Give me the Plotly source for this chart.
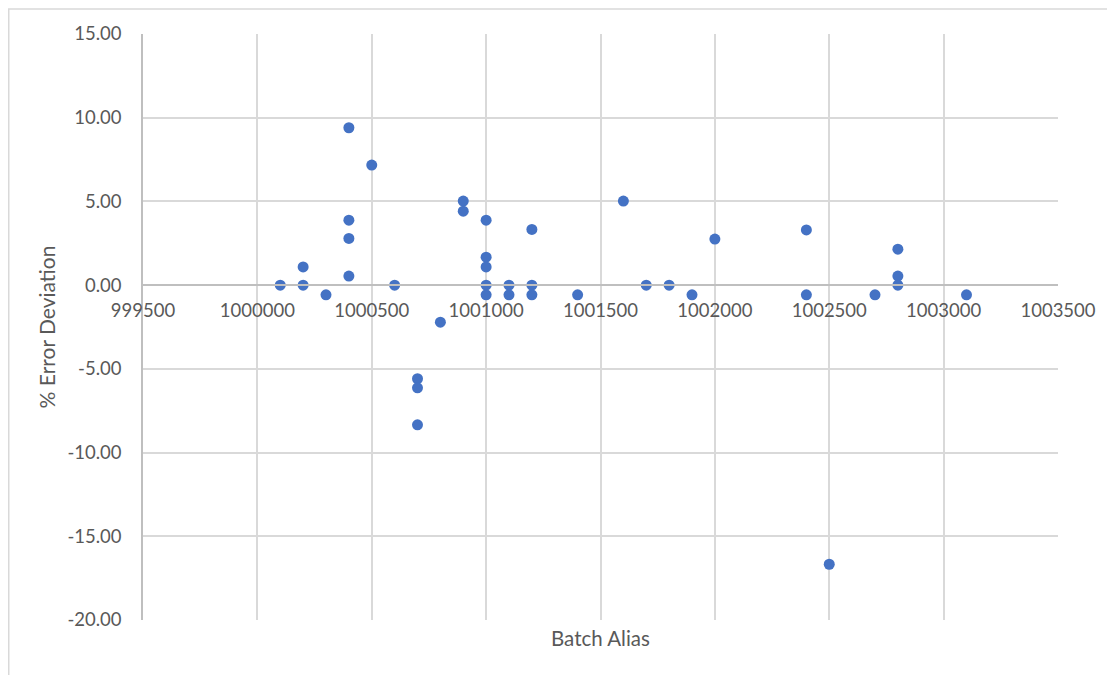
import plotly.graph_objects as go

# Data
batch_alias = [
    1000100, 1000200, 1000200, 1000300,
    1000400, 1000400, 1000400, 1000400,
    1000500, 1000600,
    1000700, 1000700, 1000700,
    1000800, 1000900, 1000900,
    1001000, 1001000, 1001000, 1001000, 1001000,
    1001100, 1001100,
    1001200, 1001200, 1001200,
    1001400, 1001600, 1001700, 1001800, 1001900, 1002000,
    1002400, 1002400, 1002500, 1002700,
    1002800, 1002800, 1002800, 1003100,
]
error_dev = [
    0.00, 1.09, 0.00, -0.58,
    9.40, 3.88, 2.79, 0.54,
    7.17, 0.00,
    -5.59, -6.13, -8.34,
    -2.21, 5.02, 4.42,
    3.88, 1.67, 1.09, 0.00, -0.58,
    0.00, -0.58,
    3.33, 0.00, -0.58,
    -0.58, 5.02, 0.00, 0.00, -0.58, 2.75,
    3.30, -0.58, -16.67, -0.58,
    2.15, 0.54, 0.00, -0.58,
]

y_ticks = [15, 10, 5, 0, -5, -10, -15, -20]
y_tick_text = ["15.00", "10.00", "5.00", "0.00", "-5.00", "-10.00", "-15.00", "-20.00"]
x_ticks = [999500, 1000000, 1000500, 1001000, 1001500, 1002000, 1002500, 1003000, 1003500]
x_tick_text = [str(v) for v in x_ticks]

FONT = "Lato"
TXT = "#595959"
GRID = "#d9d9d9"

fig = go.Figure()
fig.add_trace(go.Scatter(
    x=batch_alias, y=error_dev, mode="markers",
    marker=dict(color="#4472C4", size=11, line=dict(width=0)),
    showlegend=False, hoverinfo="x+y",
))

y_min, y_max = -20, 15
zero_pos = (0 - y_min) / (y_max - y_min)

L, R, T, B = 135, 65, 26, 63
PW = 1115 - L - R
PH = 675 - T - B

fig.update_layout(
    width=1115, height=675,
    margin=dict(l=L, r=R, t=T, b=B, autoexpand=False),
    paper_bgcolor="white", plot_bgcolor="white",
    font=dict(family=FONT, size=18, color=TXT),
    xaxis=dict(
        range=[999500, 1003500], tickvals=x_ticks, ticktext=x_tick_text,
        showgrid=True, gridcolor=GRID, gridwidth=1.5,
        zeroline=False, showline=True, linecolor="#bfbfbf", linewidth=1.5,
        anchor="free", position=zero_pos, ticks="", ticklabelstandoff=9,
        tickfont=dict(family=FONT, size=18.5, color=TXT),
        automargin=False,
    ),
    yaxis=dict(
        range=[y_min, y_max], tickvals=y_ticks, ticktext=y_tick_text,
        showgrid=True, gridcolor=GRID, gridwidth=1.5,
        zeroline=False, showline=True, linecolor="#bfbfbf", linewidth=1.5,
        ticks="", ticklabelstandoff=16,
        tickfont=dict(family=FONT, size=18.5, color=TXT),
        title=dict(text="% Error Deviation", font=dict(family=FONT, size=21, color=TXT), standoff=6),
        automargin=False,
    ),
    annotations=[dict(
        text="Batch Alias", xref="paper", yref="paper", x=0.5, y=-18 / PH,
        xanchor="center", yanchor="middle", showarrow=False,
        font=dict(family=FONT, size=20.5, color=TXT),
    )],
    shapes=[dict(
        type="rect", xref="paper", yref="paper",
        x0=(0.75 - L) / PW, x1=(1130 - L) / PW,
        y0=(PH + T - 700) / PH, y1=(PH + T - 1) / PH,
        line=dict(color=GRID, width=1.5), fillcolor="rgba(0,0,0,0)", layer="below",
    )],
)

fig.write_html("out.html")
